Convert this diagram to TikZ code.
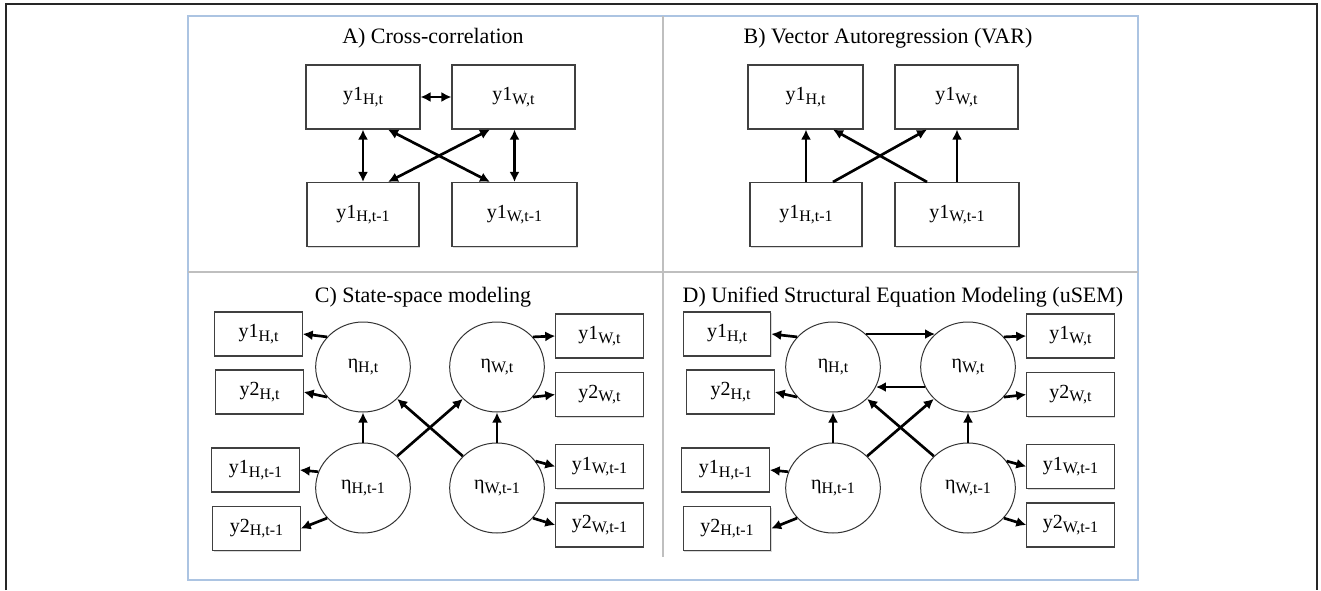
\documentclass[tikz,border=0pt]{standalone}
\usepackage{fontspec}
\setmainfont{Liberation Serif}
\usetikzlibrary{arrows.meta,calc,shapes.geometric,shadows}
\definecolor{panelblue}{RGB}{172,196,226}
\newcommand{\sublab}[2]{#1\raisebox{-2.6pt}{\fontsize{12}{12}\selectfont #2}}
\begin{document}
\begin{tikzpicture}[x=0.75pt,y=-0.75pt]
    \tikzset{obs/.style = {shape = rectangle,draw=black!75,line width=0.8pt,fill=white,inner sep = 0pt,minimum height = 48pt,font=\fontsize{15}{16}\selectfont,drop shadow={shadow xshift=0.8pt,shadow yshift=-0.8pt,opacity=0.3}},
        obsm/.style = {obs,minimum width = 65.5pt,minimum height = 33pt},
        latent/.style = {shape = ellipse,draw=black!80,line width=0.75pt,fill=white,inner sep = 0pt,minimum width = 71pt,minimum height = 67.5pt,font=\fontsize{15}{16}\selectfont},
        title/.style = {font=\fontsize{16.5}{18}\selectfont},
        edge/.style = {line width=2pt,-{Latex[length=7.5pt,width=7.5pt]}},
        dedge/.style = {line width=2pt,{Latex[length=7.5pt,width=7.5pt]}-{Latex[length=7.5pt,width=7.5pt]}}}
    \useasboundingbox (0,0) rectangle (1321,590);
    % frames
    \draw[line width=1.5pt,black!85] (6,590) -- (6,4) -- (1317,4) -- (1317,590);
    \draw[line width=1.4pt,panelblue] (188,16) rectangle (1138,580);
    \draw[line width=1pt,black!25] (188,272) -- (1138,272);
    \draw[line width=1pt,black!25] (663,16) -- (663,557);

    % A) cross-correlation
    \node[title] (ta) at (433,38) {A) Cross-correlation};
    \node[obs,minimum width=85.5pt] (aHt) at (363,97) {\sublab{y1}{H,t}};
    \node[obs,minimum width=92.25pt] (aWt) at (513.5,97) {\sublab{y1}{W,t}};
    \node[obs,minimum width=84pt] (aHtm) at (363,214.5) {\sublab{y1}{H,t-1}};
    \node[obs,minimum width=93.75pt] (aWtm) at (514.5,214.5) {\sublab{y1}{W,t-1}};
    \draw[dedge] (aHt) -- (aWt);
    \draw[dedge] (aHt) -- (aHtm);
    \draw[dedge] (aWt.south -| aWtm.north) -- (aWtm.north);
    \draw[dedge] ($(aHt.south)+(25,0)$) -- ($(aWtm.north)+(-24.5,0)$);
    \draw[dedge] ($(aWt.south)+(-23.5,0)$) -- ($(aHtm.north)+(25,0)$);

    % B) VAR
    \node[title] (tb) at (888,38) {B) Vector Autoregression (VAR)};
    \node[obs,minimum width=86.25pt] (bHt) at (805.5,97) {\sublab{y1}{H,t}};
    \node[obs,minimum width=92.25pt] (bWt) at (956.5,97) {\sublab{y1}{W,t}};
    \node[obs,minimum width=84pt] (bHtm) at (806,214.5) {\sublab{y1}{H,t-1}};
    \node[obs,minimum width=93pt] (bWtm) at (957,214.5) {\sublab{y1}{W,t-1}};
    \draw[edge] (bHtm.north) -- (bHtm.north |- bHt.south);
    \draw[edge] (bWtm.north) -- (bWtm.north |- bWt.south);
    \draw[edge] ($(bHtm.north)+(27,0)$) -- ($(bWt.south)+(-29.5,0)$);
    \draw[edge] ($(bWtm.north)+(-30,0)$) -- ($(bHt.south)+(27.5,0)$);

    % C) state-space
    \node[title] (tc) at (423,297) {C) State-space modeling};
    \node[latent] (cHt) at (363,367) {\sublab{η}{H,t}};
    \node[latent] (cWt) at (497,367) {\sublab{η}{W,t}};
    \node[latent] (cHtm) at (363,488) {\sublab{η}{H,t-1}};
    \node[latent] (cWtm) at (497,488) {\sublab{η}{W,t-1}};
    \node[obsm] (c1Ht) at (258.5,334) {\sublab{y1}{H,t}};
    \node[obsm] (c2Ht) at (259.5,392) {\sublab{y2}{H,t}};
    \node[obsm] (c1Htm) at (255.5,470) {\sublab{y1}{H,t-1}};
    \node[obsm] (c2Htm) at (256.5,528.5) {\sublab{y2}{H,t-1}};
    \node[obsm] (c1Wt) at (599.5,336) {\sublab{y1}{W,t}};
    \node[obsm] (c2Wt) at (599.5,394.5) {\sublab{y2}{W,t}};
    \node[obsm] (c1Wtm) at (599.5,466.5) {\sublab{y1}{W,t-1}};
    \node[obsm] (c2Wtm) at (599.5,525) {\sublab{y2}{W,t-1}};
    \draw[edge] (cHt.140) -- (c1Ht.east);
    \draw[edge] (cHt.220) -- (c2Ht.east);
    \draw[edge] (cHtm.160) -- (c1Htm.east);
    \draw[edge] (cHtm.220) -- (c2Htm.east);
    \draw[edge] (cWt.40) -- (c1Wt.west);
    \draw[edge] (cWt.-40) -- (c2Wt.west);
    \draw[edge] (cWtm.35) -- (c1Wtm.west);
    \draw[edge] (cWtm.-40) -- (c2Wtm.west);
    \draw[edge] (cHtm) -- (cHt);
    \draw[edge] (cWtm) -- (cWt);
    \draw[edge] (cHtm.43) -- (cWt.-137);
    \draw[edge] (cWtm.137) -- (cHt.-43);

    % D) uSEM
    \node[title] (td) at (903,297) {D) Unified Structural Equation Modeling (uSEM)};
    \node[latent] (dHt) at (833,367) {\sublab{η}{H,t}};
    \node[latent] (dWt) at (968,367) {\sublab{η}{W,t}};
    \node[latent] (dHtm) at (833,488) {\sublab{η}{H,t-1}};
    \node[latent] (dWtm) at (968,488) {\sublab{η}{W,t-1}};
    \node[obsm] (d1Ht) at (727,334) {\sublab{y1}{H,t}};
    \node[obsm] (d2Ht) at (730.5,392) {\sublab{y2}{H,t}};
    \node[obsm] (d1Htm) at (725.5,470) {\sublab{y1}{H,t-1}};
    \node[obsm] (d2Htm) at (727,528.5) {\sublab{y2}{H,t-1}};
    \node[obsm] (d1Wt) at (1070.5,336) {\sublab{y1}{W,t}};
    \node[obsm] (d2Wt) at (1070.5,394.5) {\sublab{y2}{W,t}};
    \node[obsm] (d1Wtm) at (1070.5,466.5) {\sublab{y1}{W,t-1}};
    \node[obsm] (d2Wtm) at (1070.5,525) {\sublab{y2}{W,t-1}};
    \draw[edge] (dHt.140) -- (d1Ht.east);
    \draw[edge] (dHt.220) -- (d2Ht.east);
    \draw[edge] (dHtm.160) -- (d1Htm.east);
    \draw[edge] (dHtm.220) -- (d2Htm.east);
    \draw[edge] (dWt.40) -- (d1Wt.west);
    \draw[edge] (dWt.-40) -- (d2Wt.west);
    \draw[edge] (dWtm.35) -- (d1Wtm.west);
    \draw[edge] (dWtm.-40) -- (d2Wtm.west);
    \draw[edge] (dHt.45) -- (dWt.135);
    \draw[edge] (dWt.205) -- (dHt.-25);
    \draw[edge] (dHtm) -- (dHt);
    \draw[edge] (dWtm) -- (dWt);
    \draw[edge] (dHtm.43) -- (dWt.-137);
    \draw[edge] (dWtm.137) -- (dHt.-43);
\end{tikzpicture}
\end{document}
